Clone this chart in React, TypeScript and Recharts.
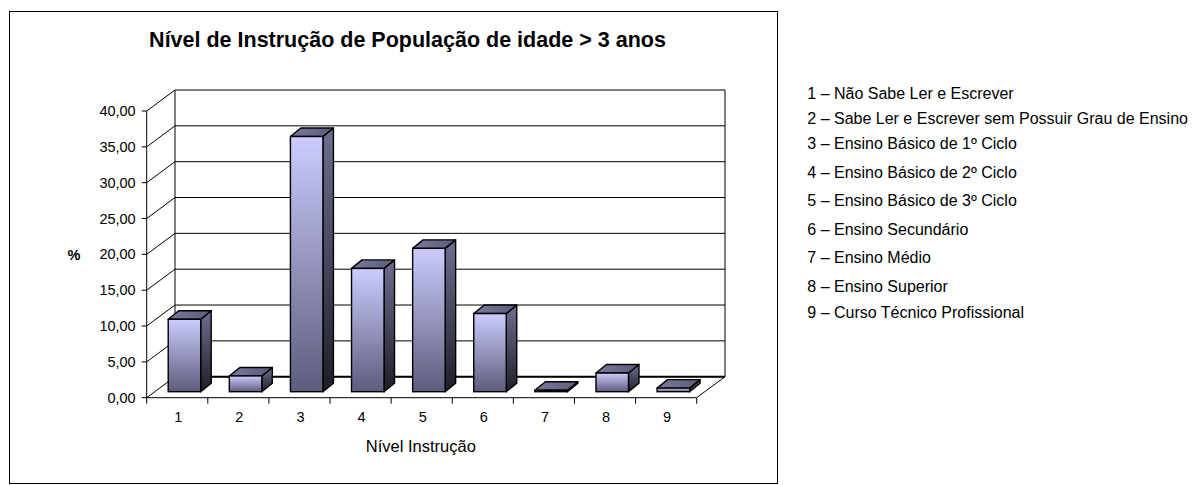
import React from 'react';
import { BarChart, Bar, XAxis, YAxis, CartesianGrid, ReferenceArea } from 'recharts';

const levels = [1, 2, 3, 4, 5, 6, 7, 8, 9];
const percentages = [10.1, 2.2, 35.6, 17.2, 20.0, 10.9, 0.2, 2.6, 0.5];
const yTicks = [0, 5, 10, 15, 20, 25, 30, 35, 40];
const legendLabels = [
  '1 – Não Sabe Ler e Escrever',
  '2 – Sabe Ler e Escrever sem Possuir Grau de Ensino',
  '3 – Ensino Básico de 1º Ciclo',
  '4 – Ensino Básico de 2º Ciclo',
  '5 – Ensino Básico de 3º Ciclo',
  '6 – Ensino Secundário',
  '7 – Ensino Médio',
  '8 – Ensino Superior',
  '9 – Curso Técnico Profissional',
];
const chartTitle = 'Nível de Instrução de População de idade > 3 anos';
const xTitle = 'Nível Instrução';
const yTitle = '%';

const data = levels.map((l, i) => ({ level: l, value: percentages[i] }));
const xTicks = levels.flatMap((l, i) => (i === 0 ? [l - 0.5, l, l + 0.5] : [l, l + 0.5]));

const FONT = '"Liberation Sans", Arial, sans-serif';
const WALL_DX = 28.3;
const WALL_DY = -21;
const SHIFT_X = 7.5;
const SHIFT_Y = -6;
const DEPTH_X = 10.5;
const DEPTH_Y = -8.5;
const TICK_SIZE = 6;
const TICK_MARGIN = 8;

const legendY = [98.5, 123.5, 149, 177.5, 206, 234.5, 263, 291.8, 317.5];

const Bar3D = (props: any) => {
  const { x, y, width, height } = props;
  if (x == null || y == null) return null;
  const fx = x + SHIFT_X;
  const fy = y + SHIFT_Y;
  const w = width;
  const h = Math.max(height, 0);
  const top = `${fx},${fy} ${fx + DEPTH_X},${fy + DEPTH_Y} ${fx + w + DEPTH_X},${fy + DEPTH_Y} ${fx + w},${fy}`;
  const side = `${fx + w},${fy} ${fx + w + DEPTH_X},${fy + DEPTH_Y} ${fx + w + DEPTH_X},${fy + h + DEPTH_Y} ${fx + w},${fy + h}`;
  return (
    <g>
      <polygon points={side} fill="url(#sideGrad)" stroke="#000" strokeWidth={1.4} strokeLinejoin="round" />
      <polygon points={top} fill="url(#topGrad)" stroke="#000" strokeWidth={1.4} strokeLinejoin="round" />
      <rect x={fx} y={fy} width={w} height={h} fill="url(#frontGrad)" stroke="#000" strokeWidth={1.4} />
    </g>
  );
};

const Walls = (props: any) => {
  const { x, y, width, height } = props;
  if (x == null) return null;
  const bx = x + WALL_DX;
  const by = y + WALL_DY;
  return (
    <g>
      <line x1={bx} y1={by} x2={bx} y2={by + height} stroke="#000" strokeWidth={1} />
      <line x1={bx + width} y1={by} x2={bx + width} y2={by + height} stroke="#000" strokeWidth={1} />
      <line x1={bx} y1={by + height} x2={bx + width} y2={by + height} stroke="#000" strokeWidth={2} />
      <line x1={x + width} y1={y + height} x2={bx + width} y2={by + height} stroke="#000" strokeWidth={1} />
    </g>
  );
};

const GridLine = (p: any) => {
  const { x1, y1, x2 } = p;
  return (
    <g>
      <line x1={x1} y1={y1} x2={x1 + WALL_DX} y2={y1 + WALL_DY} stroke="#000" strokeWidth={1} />
      <line x1={x1 + WALL_DX} y1={y1 + WALL_DY} x2={x2 + WALL_DX} y2={y1 + WALL_DY} stroke="#000" strokeWidth={1} />
    </g>
  );
};

const XTick = (props: any) => {
  const { x, y, payload } = props;
  const v = payload.value;
  if (!Number.isInteger(v)) {
    const axisY = y - TICK_SIZE - TICK_MARGIN;
    return <line x1={x} y1={axisY} x2={x} y2={axisY + TICK_SIZE} stroke="#000" strokeWidth={1} />;
  }
  return (
    <text x={x + 1} y={y} dy="0.71em" textAnchor="middle" fontSize={14.5} fontFamily={FONT} fill="#000">
      {String(v)}
    </text>
  );
};

export default function App() {
  return (
    <div style={{ position: 'absolute', left: 0, top: 0, width: 1201, height: 485, background: '#fff' }}>
      <BarChart
        width={1201}
        height={485}
        data={data}
        margin={{ top: 111, right: 504.3, left: 0, bottom: 57.3 }}
        style={{ position: 'absolute', left: 0, top: 0 }}
      >
        <defs>
          <linearGradient id="frontGrad" x1="0" y1="0" x2="0" y2="1">
            <stop offset="0%" stopColor="#ccccff" />
            <stop offset="100%" stopColor="#5c5c7c" />
          </linearGradient>
          <linearGradient id="sideGrad" x1="0" y1="0" x2="0" y2="1">
            <stop offset="0%" stopColor="#6e6e90" />
            <stop offset="100%" stopColor="#1e1e28" />
          </linearGradient>
          <linearGradient id="topGrad" x1="0" y1="0" x2="1" y2="0">
            <stop offset="0%" stopColor="#7a7a9c" />
            <stop offset="100%" stopColor="#5a5a7a" />
          </linearGradient>
        </defs>
        <CartesianGrid horizontal={GridLine} vertical={false} />
        <ReferenceArea x1={0.5} x2={9.5} y1={0} y2={40} shape={Walls} ifOverflow="visible" />
        <XAxis
          dataKey="level"
          type="number"
          domain={[0.5, 9.5]}
          ticks={xTicks}
          interval={0}
          tickLine={false}
          tickSize={TICK_SIZE}
          tickMargin={TICK_MARGIN}
          axisLine={{ stroke: '#000', strokeWidth: 1 }}
          tick={<XTick />}
          height={30}
        />
        <YAxis
          type="number"
          domain={[0, 40]}
          ticks={yTicks}
          interval={0}
          width={146.7}
          tickSize={5}
          tickMargin={6}
          tickFormatter={(v: number) => v.toFixed(2).replace('.', ',')}
          tick={{ fill: '#000', fontSize: 14.5, fontFamily: FONT }}
          axisLine={{ stroke: '#000', strokeWidth: 1 }}
          tickLine={{ stroke: '#000', strokeWidth: 1 }}
        />
        <Bar dataKey="value" barSize={32.5} shape={<Bar3D />} isAnimationActive={false} />
      </BarChart>
      <svg
        width={1201}
        height={485}
        style={{ position: 'absolute', left: 0, top: 0, pointerEvents: 'none' }}
      >
        <rect x={9.5} y={11.5} width={768} height={472} fill="none" stroke="#000" strokeWidth={1} />
        <text x={407.5} y={46.7} textAnchor="middle" fontSize={21.5} fontWeight="bold" fontFamily={FONT} fill="#000">
          {chartTitle}
        </text>
        <text x={74} y={260} textAnchor="middle" fontSize={14.5} fontWeight="bold" fontFamily={FONT} fill="#000">
          {yTitle}
        </text>
        <text x={420.8} y={451.7} textAnchor="middle" fontSize={16.5} fontFamily={FONT} fill="#000">
          {xTitle}
        </text>
        {legendLabels.map((t, i) => (
          <text key={t} x={807.3} y={legendY[i]} fontSize={16} fontFamily={FONT} fill="#000">
            {t}
          </text>
        ))}
      </svg>
    </div>
  );
}
